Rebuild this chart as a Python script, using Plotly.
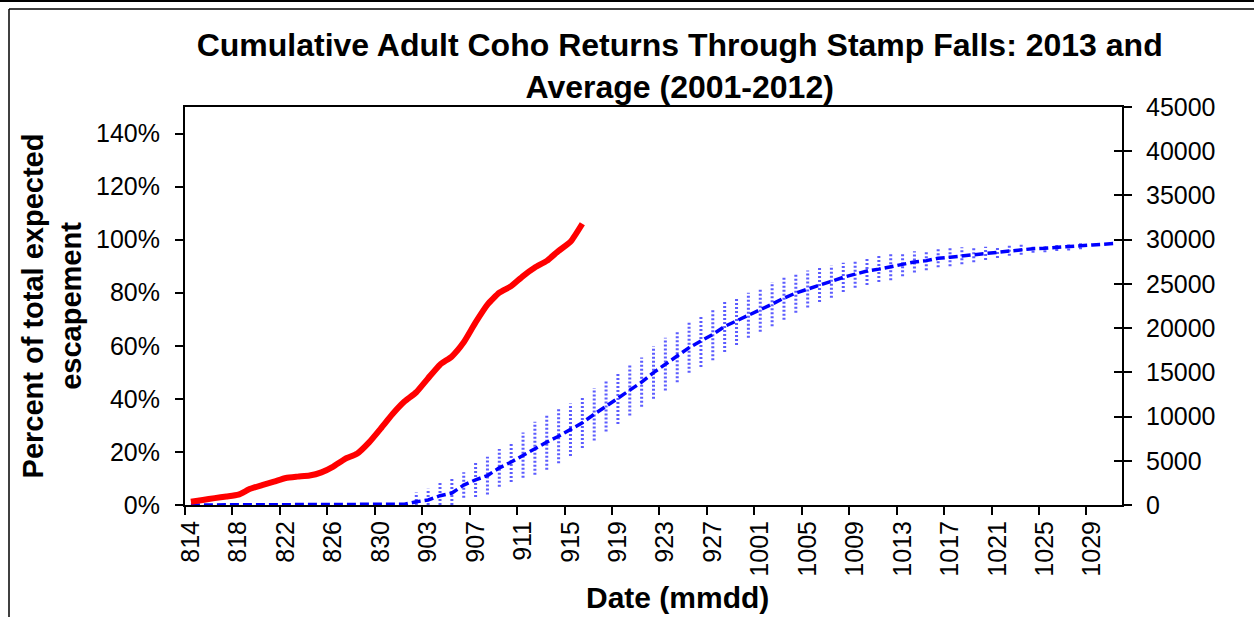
import datetime as dt
import plotly.graph_objects as go

# ---------------- data ----------------
start = dt.date(2013, 8, 14)
dates = [f"{(start + dt.timedelta(days=k)).month}{(start + dt.timedelta(days=k)).day:02d}" for k in range(79)]  # 814 .. 1031

# 2013 cumulative percent of total expected escapement (814 .. 916)
pct_2013 = [1.2, 1.9, 2.6, 3.2, 3.9, 6.1, 7.5, 8.8, 10.2, 10.7,
            11.1, 12.3, 14.5, 17.4, 19.3, 23.5, 28.8, 34.3, 39.0, 42.5,
            47.8, 52.9, 56.0, 61.3, 68.8, 75.5, 80.0, 82.5, 86.3, 89.5,
            92.0, 95.8, 99.2, 106.0]

# Average 2001-2012 cumulative percent (814 .. 1031)
pct_avg = [0]*18 + [0.3, 1.2, 1.9, 3.5, 4.5, 7.5, 9.5, 11.1, 14.0, 16.2,
           18.8, 21.4, 23.7, 25.9, 28.4, 31.0, 34.2, 37.2, 40.0, 43.2,
           46.3, 49.9, 53.1, 56.0, 59.3, 61.8, 64.3, 67.3, 69.3, 71.5,
           73.6, 75.7, 78.0, 79.9, 81.4, 83.0, 84.2, 85.8, 87.0, 88.2,
           88.9, 89.8, 90.7, 91.6, 92.1, 93.0, 93.4, 93.9, 94.4, 94.8,
           95.2, 95.8, 96.2, 96.6, 96.8, 97.0, 97.2, 97.7, 98.0, 98.3, 98.6]

# Error (+/-) for the average
err_avg = [None]*18 + [1.2, 3.5, 4.2, 5.0, 6.0, 4.8, 6.5, 7.1, 7.1, 7.5,
           8.5, 10.0, 10.4, 10.2, 9.9, 9.5, 9.9, 9.5, 9.5, 9.5,
           9.3, 9.9, 9.9, 9.7, 9.5, 9.8, 9.7, 9.6, 9.0, 8.5,
           8.3, 8.3, 8.2, 7.4, 7.0, 6.5, 6.1, 5.5, 5.1, 5.3,
           4.9, 5.1, 4.5, 4.0, 3.6, 3.4, 3.4, 3.2, 2.9, 2.5,
           2.1, 1.9, 1.9, 1.5, 1.5, 1.3, 1.3, 1.3, None, None, None]

pct_ticks = [0, 20, 40, 60, 80, 100, 120, 140]
pct_labels = [f"{v}%" for v in pct_ticks]
count_range = [0, 45000]

# ---------------- figure ----------------
FONT = "Liberation Sans, Arial, sans-serif"
fig = go.Figure()

# error bars as dotted vertical segments
ex, ey = [], []
for d, m, e in zip(dates, pct_avg, err_avg):
    if e is None:
        continue
    ex += [d, d, None]
    ey += [max(m - e, 0), m + e, None]
fig.add_trace(go.Scatter(x=ex, y=ey, mode="lines", hoverinfo="skip",
                         line=dict(color="#5C5CFF", width=3, dash="2px,2px"),
                         showlegend=False))

fig.add_trace(go.Scatter(x=dates, y=pct_avg, mode="lines", name="Average (2001-2012)",
                         line=dict(color="#0000FF", width=3.5, dash="9px,4px"),
                         showlegend=False))

fig.add_trace(go.Scatter(x=dates[:len(pct_2013)], y=pct_2013, mode="lines", name="2013",
                         line=dict(color="#FF0000", width=6, shape="spline", smoothing=0.5),
                         showlegend=False))

# dummy traces to activate right axes
fig.add_trace(go.Scatter(x=dates[:1], y=[0], yaxis="y2", mode="markers",
                         marker=dict(opacity=0), hoverinfo="skip", showlegend=False))
fig.add_trace(go.Scatter(x=dates[:1], y=[0], yaxis="y3", mode="markers",
                         marker=dict(opacity=0), hoverinfo="skip", showlegend=False))

fig.update_layout(
    width=1254, height=617,
    margin=dict(l=185, r=132, t=107, b=112, autoexpand=False),
    paper_bgcolor="white", plot_bgcolor="white",
    font=dict(family=FONT, color="black"),
    title=dict(text="Cumulative Adult Coho Returns Through Stamp Falls: 2013 and<br>Average (2001-2012)",
               x=0.542, xanchor="center", xref="container",
               y=1 - 56/617, yanchor="middle", yref="container",
               font=dict(size=32, family=FONT, weight="bold", color="black")),
    xaxis=dict(type="category", categoryorder="array", categoryarray=dates,
               range=[-0.5, len(dates) - 0.5], tickmode="linear", tick0=0, dtick=4,
               tickson="boundaries", tickangle=-90,
               ticks="outside", ticklen=8, tickwidth=1.5, tickcolor="black",
               ticklabelstandoff=4,
               showline=True, linecolor="black", linewidth=2, mirror=True,
               showgrid=False, zeroline=False, layer="below traces",
               tickfont=dict(size=25, family=FONT)),
    yaxis=dict(range=[0, 150], tickmode="array", tickvals=pct_ticks, ticktext=pct_labels,
               ticks="outside", ticklen=8, tickwidth=1.5, tickcolor="black",
               ticklabelstandoff=10,
               showline=True, linecolor="black", linewidth=2,
               showgrid=False, zeroline=False, layer="below traces",
               tickfont=dict(size=25, family=FONT),
               title=dict(text="Percent of total expected<br>escapement", standoff=6,
                          font=dict(size=29, family=FONT, weight="bold"))),
    yaxis2=dict(overlaying="y", side="right", range=count_range, dtick=5000, tickformat="d",
                ticks="outside", ticklen=8, tickwidth=1.5, tickcolor="black",
                ticklabelstandoff=9,
                showline=True, linecolor="black", linewidth=2,
                showgrid=False, zeroline=False,
                tickfont=dict(size=25, family=FONT)),
    yaxis3=dict(overlaying="y", side="right", range=count_range, dtick=5000,
                ticks="inside", ticklen=8, tickwidth=1.5, tickcolor="black",
                showticklabels=False, showline=False, showgrid=False, zeroline=False),
    annotations=[dict(text="Date (mmdd)", xref="paper", yref="paper",
                      x=(677 - 185) / 937, y=(505 - 597) / 398,
                      xanchor="center", yanchor="middle", showarrow=False,
                      font=dict(size=30, family=FONT, weight="bold", color="black"))],
)

# outer frame of the chart image
def px(xp):
    return (xp - 185) / 937

def py(yp):
    return (505 - yp) / 398

frame = dict(color="black", width=2)
fig.add_shape(type="line", xref="paper", yref="paper", x0=px(0), x1=px(1254), y0=py(1), y1=py(1), line=frame)
fig.add_shape(type="line", xref="paper", yref="paper", x0=px(9), x1=px(1254), y0=py(9), y1=py(9), line=dict(color="black", width=1.5))
fig.add_shape(type="line", xref="paper", yref="paper", x0=px(9), x1=px(9), y0=py(9), y1=py(617), line=dict(color="black", width=1.5))

fig.write_html("out.html", config={"displayModeBar": False},
               post_script="document.body.style.margin='0';document.body.style.overflow='hidden';")
